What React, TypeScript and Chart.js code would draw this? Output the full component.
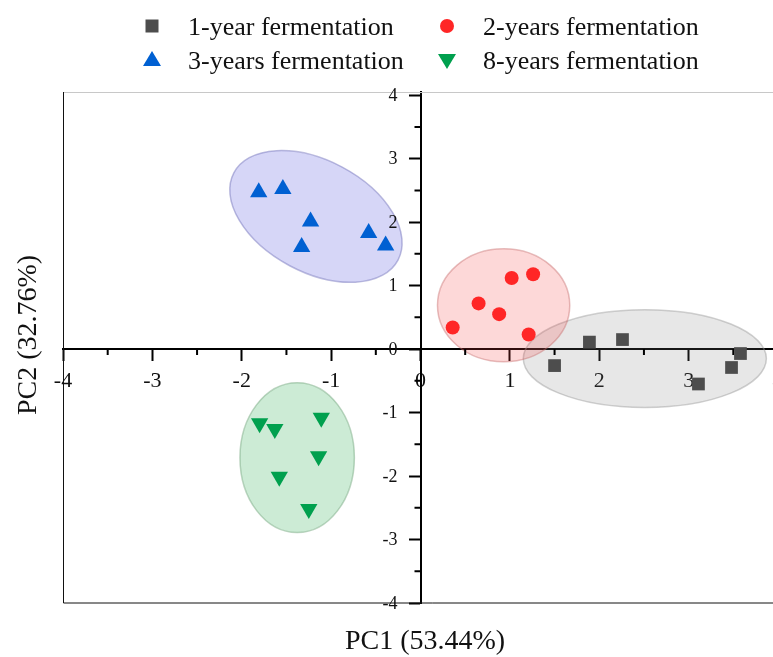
import React, { useEffect, useRef } from "react";
import { Chart, registerables } from "chart.js";

Chart.register(...registerables);

// ---- data ----
const seriesLabels = [
  "1-year fermentation",
  "2-years fermentation",
  "3-years fermentation",
  "8-years fermentation",
];
const year1X = [1.89, 2.26, 1.5, 3.58, 3.48, 3.11];
const year1Y = [0.11, 0.15, -0.26, -0.07, -0.29, -0.55];
const year2X = [0.36, 0.65, 0.88, 1.02, 1.26, 1.21];
const year2Y = [0.34, 0.72, 0.55, 1.12, 1.18, 0.23];
const year3X = [-1.81, -1.54, -1.23, -1.33, -0.58, -0.39];
const year3Y = [2.47, 2.52, 2.01, 1.61, 1.83, 1.63];
const year8X = [-1.8, -1.63, -1.11, -1.14, -1.58, -1.25];
const year8Y = [-1.17, -1.26, -1.08, -1.69, -2.01, -2.52];

// confidence ellipses (centre, semi-axes in data units, rotation in degrees)
const ellipseCx = [2.51, 0.93, -1.17, -1.38];
const ellipseCy = [-0.15, 0.69, 2.09, -1.71];
const ellipseRx = [1.36, 0.74, 1.04, 0.64];
const ellipseRy = [0.77, 0.89, 0.88, 1.18];
const ellipseAngle = [0, 0, 28, 0];

const xTicks = [-4, -3, -2, -1, 0, 1, 2, 3, 4];
const yTicks = [-4, -3, -2, -1, 0, 1, 2, 3, 4];
const xMinorTicks = [-3.5, -2.5, -1.5, -0.5, 0.5, 1.5, 2.5, 3.5];
const yMinorTicks = [-3.5, -2.5, -1.5, -0.5, 0.5, 1.5, 2.5, 3.5];

const xTitle = "PC1 (53.44%)";
const yTitle = "PC2 (32.76%)";

// ---- styles ----
const FONT = '"Liberation Serif", "Times New Roman", serif';
const markerColors = ["#4d4d4d", "#ff2626", "#0060d2", "#00a04e"];
const markerStyles = ["rect", "circle", "triangle", "triangle"];
const markerRotation = [0, 0, 0, 180];
const markerRadius = [9, 7, 10, 10];
const ellipseFill = [
  "rgba(120,120,120,0.18)",
  "rgba(245,60,60,0.20)",
  "rgba(90,90,225,0.25)",
  "rgba(40,170,80,0.24)",
];
const ellipseStroke = [
  "rgba(150,150,150,0.45)",
  "rgba(200,110,110,0.45)",
  "rgba(120,120,190,0.5)",
  "rgba(120,170,130,0.5)",
];

function drawMarker(ctx: CanvasRenderingContext2D, i: number, x: number, y: number) {
  ctx.save();
  ctx.fillStyle = markerColors[i];
  ctx.beginPath();
  if (i === 0) {
    ctx.rect(x - 6.5, y - 6.5, 13, 13);
  } else if (i === 1) {
    ctx.arc(x, y, 7, 0, Math.PI * 2);
  } else if (i === 2) {
    ctx.moveTo(x, y - 9);
    ctx.lineTo(x + 9, y + 6);
    ctx.lineTo(x - 9, y + 6);
    ctx.closePath();
  } else {
    ctx.moveTo(x, y + 9);
    ctx.lineTo(x + 9, y - 6);
    ctx.lineTo(x - 9, y - 6);
    ctx.closePath();
  }
  ctx.fill();
  ctx.restore();
}

const decorPlugin = {
  id: "decor",
  beforeDatasetsDraw(chart: any) {
    const { ctx, chartArea, scales } = chart;
    const x = scales.x;
    const y = scales.y;
    const pxX = x.getPixelForValue(1) - x.getPixelForValue(0);
    const pxY = y.getPixelForValue(0) - y.getPixelForValue(1);
    for (let i = 0; i < ellipseCx.length; i++) {
      ctx.save();
      ctx.translate(x.getPixelForValue(ellipseCx[i]), y.getPixelForValue(ellipseCy[i]));
      ctx.rotate((ellipseAngle[i] * Math.PI) / 180);
      ctx.beginPath();
      ctx.ellipse(0, 0, ellipseRx[i] * pxX, ellipseRy[i] * pxY, 0, 0, Math.PI * 2);
      ctx.fillStyle = ellipseFill[i];
      ctx.fill();
      ctx.lineWidth = 1.5;
      ctx.strokeStyle = ellipseStroke[i];
      ctx.stroke();
      ctx.restore();
    }
    // frame
    ctx.save();
    ctx.lineWidth = 1;
    ctx.strokeStyle = "#c8c8c8";
    ctx.beginPath();
    ctx.moveTo(chartArea.left, chartArea.top + 0.5);
    ctx.lineTo(chartArea.right + 40, chartArea.top + 0.5);
    ctx.stroke();
    ctx.strokeStyle = "#111";
    ctx.beginPath();
    ctx.moveTo(chartArea.left + 0.5, chartArea.top);
    ctx.lineTo(chartArea.left + 0.5, chartArea.bottom);
    ctx.lineTo(chartArea.right + 40, chartArea.bottom);
    ctx.stroke();
    // minor ticks
    ctx.lineWidth = 2;
    ctx.strokeStyle = "#000";
    const y0 = y.getPixelForValue(0);
    const x0 = x.getPixelForValue(0);
    ctx.beginPath();
    for (const v of xMinorTicks) {
      const px = x.getPixelForValue(v);
      ctx.moveTo(px, y0);
      ctx.lineTo(px, y0 + 6);
    }
    for (const v of yMinorTicks) {
      const py = y.getPixelForValue(v);
      ctx.moveTo(x0, py);
      ctx.lineTo(x0 - 6, py);
    }
    ctx.stroke();
    // y tick labels (left of the centred y axis)
    ctx.fillStyle = "#111";
    ctx.font = `18px ${FONT}`;
    ctx.textAlign = "right";
    ctx.textBaseline = "middle";
    for (const v of yTicks) {
      ctx.fillText(`${v}`, x0 - 23, y.getPixelForValue(v) + 1);
    }
    ctx.restore();
  },
  afterDraw(chart: any) {
    const { ctx } = chart;
    ctx.save();
    ctx.fillStyle = "#111";
    // axis titles
    ctx.font = `28px ${FONT}`;
    ctx.textAlign = "center";
    ctx.textBaseline = "middle";
    ctx.fillText(xTitle, 425, 642);
    ctx.save();
    ctx.translate(29, 335);
    ctx.rotate(-Math.PI / 2);
    ctx.fillText(yTitle, 0, 0);
    ctx.restore();
    // legend
    ctx.font = `26px ${FONT}`;
    ctx.textAlign = "left";
    const colMarker = [152, 447];
    const colText = [188, 483];
    const rowY = [27, 61];
    for (let i = 0; i < seriesLabels.length; i++) {
      const c = i % 2;
      const r = Math.floor(i / 2);
      drawMarker(ctx, i, colMarker[c], rowY[r] - 1);
      ctx.fillStyle = "#111";
      ctx.fillText(seriesLabels[i], colText[c], rowY[r] + 1);
    }
    ctx.restore();
  },
};

const seriesX = [year1X, year2X, year3X, year8X];
const seriesY = [year1Y, year2Y, year3Y, year8Y];

export default function App() {
  const canvasRef = useRef<HTMLCanvasElement | null>(null);

  useEffect(() => {
    if (!canvasRef.current) return;
    const datasets = seriesLabels.map((label, i) => ({
      label,
      data: seriesX[i].map((xv, k) => ({ x: xv, y: seriesY[i][k] })),
      pointStyle: markerStyles[i] as any,
      rotation: markerRotation[i],
      pointRadius: markerRadius[i],
      pointBackgroundColor: markerColors[i],
      pointBorderColor: markerColors[i],
      pointBorderWidth: 0,
      showLine: false,
    }));
    const axisCommon = {
      type: "linear" as const,
      grid: {
        display: true,
        drawOnChartArea: false,
        drawTicks: true,
        tickLength: 11,
        tickWidth: 2,
        tickColor: "#000",
      },
      border: { display: true, width: 2, color: "#000" },
    };
    const chart = new Chart(canvasRef.current, {
      type: "scatter",
      data: { datasets },
      plugins: [decorPlugin],
      options: {
        animation: false,
        responsive: false,
        devicePixelRatio: 1,
        layout: { padding: { left: 63, right: 22, top: 92, bottom: 54 } },
        plugins: {
          legend: { display: false },
          tooltip: { enabled: false },
        },
        scales: {
          x: {
            ...axisCommon,
            position: { y: 0 } as any,
            min: -4,
            max: 4,
            afterBuildTicks: (scale: any) => {
              scale.ticks = xTicks.map((v) => ({ value: v }));
            },
            ticks: {
              autoSkip: false,
              maxRotation: 0,
              padding: 8,
              color: "#111",
              font: { family: FONT, size: 22 },
              callback: (v: any) => `${v}`,
            },
          },
          y: {
            ...axisCommon,
            position: { x: 0 } as any,
            min: -4,
            max: 4.05,
            afterBuildTicks: (scale: any) => {
              scale.ticks = yTicks.map((v) => ({ value: v }));
            },
            ticks: {
              display: false,
              autoSkip: false,
            },
          },
        },
      },
    });
    return () => chart.destroy();
  }, []);

  return (
    <div
      style={{
        position: "absolute",
        left: 0,
        top: 0,
        width: 773,
        height: 657,
        overflow: "hidden",
        background: "#fff",
      }}
    >
      <canvas ref={canvasRef} width={800} height={657} style={{ display: "block" }} />
    </div>
  );
}
